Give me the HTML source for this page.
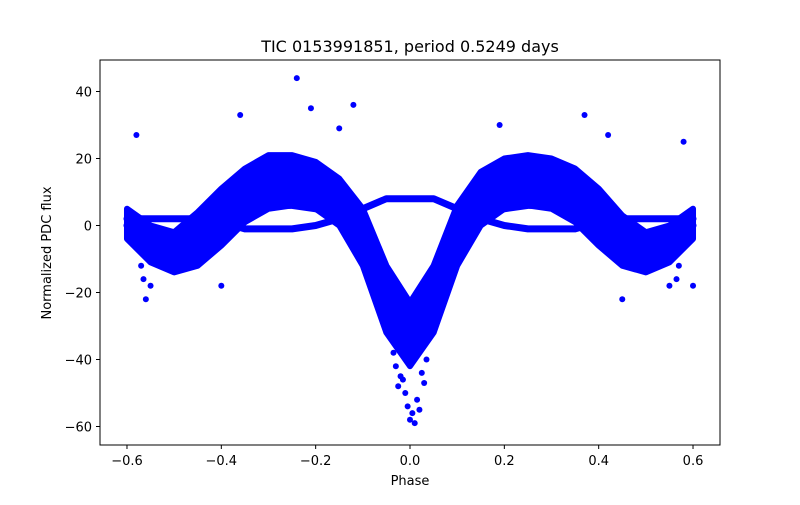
<!DOCTYPE html>
<html><head><meta charset="utf-8"><style>
body{margin:0;background:#fff;font-family:"Liberation Sans","DejaVu Sans",sans-serif}
</style></head><body>
<svg id="chart" width="800" height="500" xmlns="http://www.w3.org/2000/svg" font-family="'DejaVu Sans','Liberation Sans',sans-serif">
<rect width="800" height="500" fill="#fff"/>
<text x="410" y="52" font-size="16" text-anchor="middle">TIC 0153991851, period 0.5249 days</text>
<g id="marks"></g>
<rect x="100" y="60" width="620" height="385" fill="none" stroke="#000" stroke-width="1"/>
<g id="axes"></g>
<text x="410" y="485" font-size="13" text-anchor="middle">Phase</text>
<text transform="translate(51,253) rotate(-90)" font-size="13" text-anchor="middle">Normalized PDC flux</text>
</svg>
<script>
const phases=[-0.6,-0.55,-0.5,-0.45,-0.4,-0.35,-0.3,-0.25,-0.2,-0.15,-0.1,-0.05,0,0.05,0.1,0.15,0.2,0.25,0.3,0.35,0.4,0.45,0.5,0.55,0.6];
const upperHigh=[5,0,-2,4,11,17,21,21,19,14,5,-12,-23,-12,6,16,20,21,20,17,11,3,-2,0,5];
const upperLow=[-4,-11,-14,-12,-6,1,5,6,5,0,-12,-32,-42,-32,-12,0,5,6,5,1,-6,-12,-14,-11,-4];
const flatBranch=[2,2,2,2,1,-1,-1,-1,0,2,5,8,8,8,5,2,0,-1,-1,-1,1,2,2,2,2];
const midBranch=[0,-4,-6,-2,3,5,6,6,5,3,-2,-20,-33,-20,-2,3,5,6,6,5,3,-2,-6,-4,0];
const outlierX=[-0.24,-0.21,-0.58,-0.36,-0.12,0.42,0.58,0.6,-0.4,0.19,-0.15,-0.56,0.45,-0.02,0,0.02,-0.01,0.03,0.01,-0.03,-0.55,0.55,0.37,-0.57,-0.565,0.57,0.565,-0.025,0.025,-0.005,0.015,0.005,-0.015,0.035,-0.035];
const outlierY=[44,35,27,33,36,27,25,-18,-18,30,29,-22,-22,-45,-58,-55,-50,-47,-59,-42,-18,-18,33,-12,-16,-12,-16,-48,-44,-54,-52,-56,-46,-40,-38];
const xTicks=[-0.6,-0.4,-0.2,0,0.2,0.4,0.6];
const xTickLabels=["−0.6","−0.4","−0.2","0.0","0.2","0.4","0.6"];
const yTicks=[40,20,0,-20,-40,-60];
const yTickLabels=["40","20","0","−20","−40","−60"];
const ns="http://www.w3.org/2000/svg";
const X=p=>410+p*471.7, Y=v=>225.5-v*3.35;
const marks=document.getElementById('marks'), axes=document.getElementById('axes');
function pts(arr){return phases.map((p,i)=>X(p)+','+Y(arr[i])).join(' ');}
const band=document.createElementNS(ns,'polygon');


band.setAttribute('points',pts(upperHigh)+' '+phases.map((p,i)=>[X(p),Y(upperLow[i])]).reverse().map(a=>a.join(',')).join(' '));
band.setAttribute('fill','#0000ff');band.setAttribute('stroke','#0000ff');band.setAttribute('stroke-width','6');band.setAttribute('stroke-linejoin','round');
marks.appendChild(band);
[flatBranch,midBranch].forEach((arr,k)=>{
 const l=document.createElementNS(ns,'polyline');
 
 
 l.setAttribute('points',pts(arr));l.setAttribute('fill','none');l.setAttribute('stroke','#0000ff');l.setAttribute('stroke-width','7');l.setAttribute('stroke-linejoin','round');l.setAttribute('stroke-linecap','round');
 marks.appendChild(l);
});
outlierX.forEach((p,i)=>{
 const c=document.createElementNS(ns,'circle');
 
 
 c.setAttribute('cx',X(p));c.setAttribute('cy',Y(outlierY[i]));c.setAttribute('r',3);c.setAttribute('fill','#0000ff');
 marks.appendChild(c);
});
xTicks.forEach((t,i)=>{
 const l=document.createElementNS(ns,'line');
 
 
 l.setAttribute('x1',X(t));l.setAttribute('x2',X(t));l.setAttribute('y1',445);l.setAttribute('y2',449);l.setAttribute('stroke','#000');
 axes.appendChild(l);
 const s=document.createElementNS(ns,'text');
 
 
 s.setAttribute('x',X(t));s.setAttribute('y',465);s.setAttribute('font-size','13');s.setAttribute('text-anchor','middle');s.textContent=xTickLabels[i];
 axes.appendChild(s);
});
yTicks.forEach((t,i)=>{
 const l=document.createElementNS(ns,'line');
 
 
 l.setAttribute('x1',96);l.setAttribute('x2',100);l.setAttribute('y1',Y(t));l.setAttribute('y2',Y(t));l.setAttribute('stroke','#000');
 axes.appendChild(l);
 const s=document.createElementNS(ns,'text');
 
 
 s.setAttribute('x',92);s.setAttribute('y',Y(t)+5);s.setAttribute('font-size','13');s.setAttribute('text-anchor','end');s.textContent=yTickLabels[i];
 axes.appendChild(s);
});
</script>
</body></html>
